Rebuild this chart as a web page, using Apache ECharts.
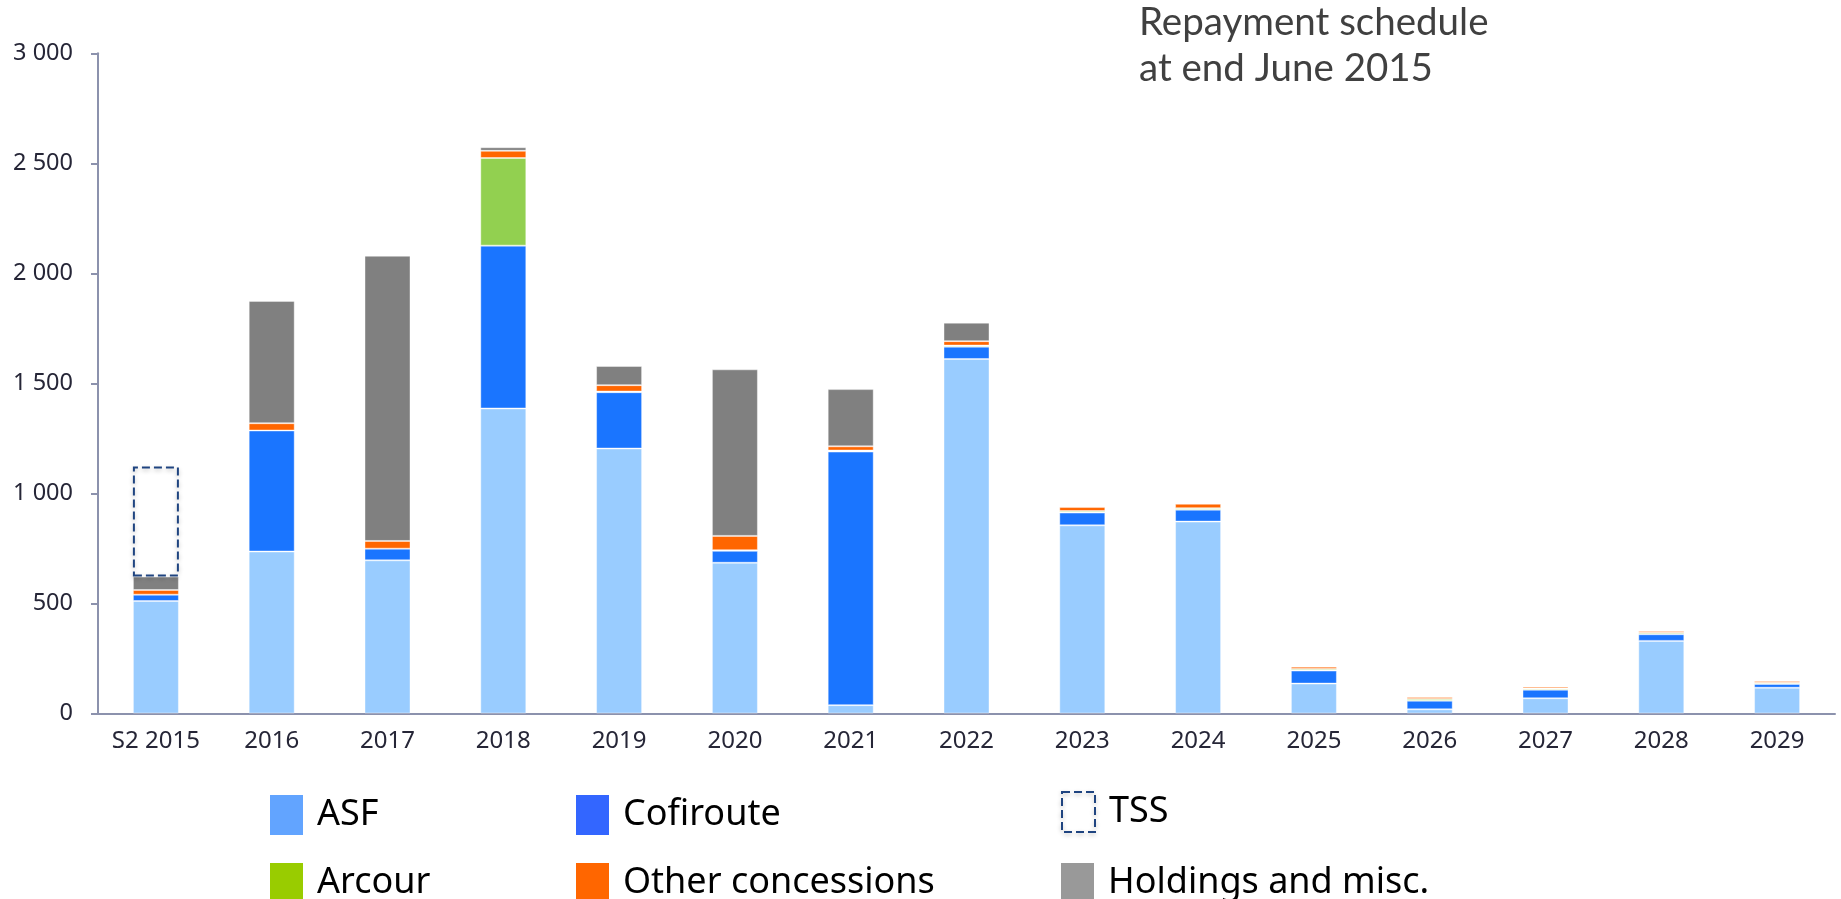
<!DOCTYPE html>
<html>
<head>
<meta charset="utf-8">
<script src="https://cdn.jsdelivr.net/npm/echarts@6/dist/echarts.min.js"></script>
<style>
html,body{margin:0;padding:0;background:#fff;}
#chart{width:1841px;height:899px;}
</style>
</head>
<body>
<div id="chart"></div>
<script>
const categories = ['S2 2015','2016','2017','2018','2019','2020','2021','2022','2023','2024','2025','2026','2027','2028','2029'];
const asf       = [511, 736, 696, 1386, 1204, 685, 38, 1611, 855, 872, 136, 19, 69, 330, 117];
const cofiroute = [29, 550, 53, 740, 256, 54, 1152, 56, 58, 54, 59, 39, 39, 30, 17];
const arcour    = [null, null, null, 398, 3, 3, 5, 5, 7, 7, 7, 8, 6, 7, 6];
const other     = [21, 33, 35, 33, 29, 65, 19, 20, 18, 20, 11, 9, 8, 8, 8];
const holdings  = [61, 556, 1296, 16, 87, 757, 260, 84, null, null, null, null, null, null, null];
const tss       = [500, null, null, null, null, null, null, null, null, null, null, null, null, null, null];
const yTicks = {min: 0, max: 3000, interval: 500};
const titleLines = ['Repayment schedule', 'at end June 2015'];

const chart = echarts.init(document.getElementById('chart'));
const edge = {borderColor: 'rgba(255,255,255,0.4)', borderWidth: 1};
function bar(name, data, color) {
  return {name, type: 'bar', stack: 'total', data, barWidth: 46,
    itemStyle: Object.assign({color}, edge), emphasis: {disabled: true}};
}
const legendText = {fontSize: 36, color: '#000', fontFamily: 'Noto Sans', padding: [0, 0, 0, 9]};
function legend(left, top, item) {
  return {orient: 'horizontal', left, top, itemWidth: 33, itemHeight: 40,
    icon: 'rect', textStyle: legendText, selectedMode: false, data: [item], padding: 0};
}
const tssStyle = {color: 'rgba(255,255,255,0)', borderColor: '#1f4480', borderWidth: 2, borderType: 'dashed',
  shadowBlur: 4, shadowColor: 'rgba(0,0,0,0.25)', shadowOffsetY: 2};
const option = {
  animation: false,
  title: {text: titleLines.join('\n'), left: 1139, top: 0, padding: 0,
    textStyle: {fontSize: 38.5, lineHeight: 46, fontFamily: 'Lato', fontWeight: 'normal', color: '#404040'}},
  grid: {left: 98, right: 6, top: 53.3, bottom: 185.5, containLabel: false},
  legend: [
    legend(270, 795, {name: 'ASF', itemStyle: {color: '#62A4FF', borderWidth: 0}}),
    legend(576, 795, {name: 'Cofiroute', itemStyle: {color: '#3366FF', borderWidth: 0}}),
    legend(1061, 791, {name: 'TSS', itemStyle: tssStyle}),
    legend(270, 863, {name: 'Arcour', itemStyle: {color: '#99CC00', borderWidth: 0}}),
    legend(576, 863, {name: 'Other concessions', itemStyle: {color: '#FF6600', borderWidth: 0}}),
    legend(1061, 863, {name: 'Holdings and misc.', itemStyle: {color: '#999999', borderWidth: 0}})
  ],
  xAxis: {type: 'category', data: categories,
    axisLine: {lineStyle: {color: '#8c92ad', width: 2}},
    axisTick: {length: 7, lineStyle: {color: '#8c92ad', width: 2}},
    axisLabel: {fontSize: 24, color: '#262637', fontFamily: 'Noto Sans', margin: 16}},
  yAxis: {type: 'value', min: yTicks.min, max: yTicks.max, interval: yTicks.interval,
    splitLine: {show: false},
    axisLine: {show: true, lineStyle: {color: '#8c92ad', width: 2}},
    axisTick: {show: true, length: 7, lineStyle: {color: '#8c92ad', width: 2}},
    axisLabel: {fontSize: 23.5, color: '#262637', fontFamily: 'Noto Sans', margin: 25,
      formatter: v => v >= 1000 ? Math.floor(v / 1000) + ' ' + String(v % 1000).padStart(3, '0') : String(v)}},
  series: [
    bar('ASF', asf, '#99CCFF'),
    bar('Cofiroute', cofiroute, '#1A75FF'),
    bar('Arcour', arcour, '#92D050'),
    bar('Other concessions', other, '#FF6600'),
    bar('Holdings and misc.', holdings, '#808080'),
    {name: 'TSS', type: 'bar', stack: 'total', data: tss, barWidth: 46, emphasis: {disabled: true},
      itemStyle: tssStyle}
  ]
};
chart.setOption(option);
</script>
</body>
</html>
